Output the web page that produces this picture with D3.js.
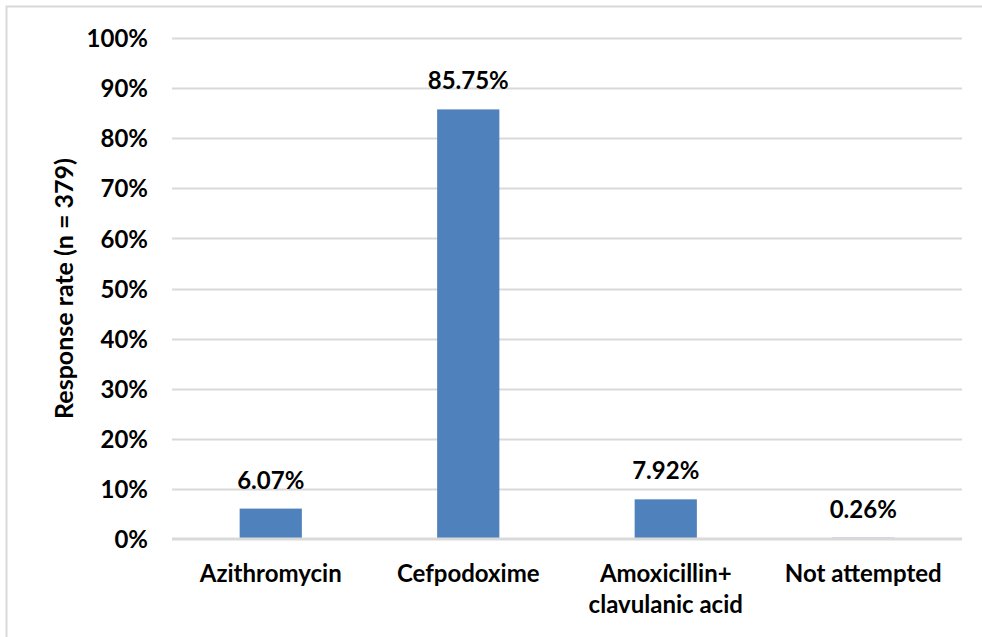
<!DOCTYPE html>
<html>
<head>
<meta charset="utf-8">
<script src="https://cdn.jsdelivr.net/npm/d3@7"></script>
<style>
	body { margin: 0; background: #fff; }
	svg text { font-family: Lato, "Open Sans", sans-serif; font-weight: bold; fill: #000; }
</style>
</head>
<body>
<div id="chart"></div>
<script>
'use strict';
(function() {
	//Chart data
	var categories = ['Azithromycin', 'Cefpodoxime', 'Amoxicillin+\nclavulanic acid', 'Not attempted'];
	var values = [6.07, 85.75, 7.92, 0.26];
	var yTicks = [0, 10, 20, 30, 40, 50, 60, 70, 80, 90, 100];
	var yTitle = 'Response rate (n = 379)';

	var width = 982, height = 637;
	var margin = {top: 38, right: 20, bottom: 98, left: 172};
	var innerW = width - margin.left - margin.right;
	var innerH = height - margin.top - margin.bottom;
	var fontSize = '24px';

	var svg = d3.select('#chart').append('svg')
		.attr('width', width)
		.attr('height', height);

	//frame (only left and top edges visible)
	svg.append('path')
		.attr('d', 'M6.5,' + height + 'V6.5H' + width)
		.attr('fill', 'none')
		.attr('stroke', '#d9d9d9')
		.attr('stroke-width', 2);

	var g = svg.append('g')
		.attr('transform', 'translate(' + margin.left + ',' + margin.top + ')');

	//Scales
	var x = d3.scaleBand()
		.domain(categories)
		.range([0, innerW])
		.paddingInner(0.685)
		.paddingOuter(0.3425);
	var y = d3.scaleLinear()
		.domain([0, 100])
		.range([innerH, 0]);

	//Gridlines (behind bars)
	g.append('g')
		.selectAll('line')
		.data(yTicks.filter(function(d){ return d > 0; }))
		.enter().append('line')
			.attr('x1', 0)
			.attr('x2', innerW)
			.attr('y1', function(d){ return Math.round(y(d)) + 0.5; })
			.attr('y2', function(d){ return Math.round(y(d)) + 0.5; })
			.attr('stroke', '#d9d9d9')
			.attr('stroke-width', 2);

	//Bars
	g.selectAll('rect.bar')
		.data(values)
		.enter().append('rect')
			.classed('bar', true)
			.attr('x', function(d, i){ return x(categories[i]); })
			.attr('width', x.bandwidth())
			.attr('y', function(d){ return y(d); })
			.attr('height', function(d){ return innerH - y(d); })
			.attr('fill', '#4f81bd');

	//zero line on top of bars
	g.append('line')
		.attr('x1', 0)
		.attr('x2', innerW)
		.attr('y1', y(0))
		.attr('y2', y(0))
		.attr('stroke', '#d9d9d9')
		.attr('stroke-width', 3);

	//Y axis
	var yAxis = g.append('g')
		.call(d3.axisLeft(y).tickValues(yTicks).tickSize(0).tickPadding(24)
			.tickFormat(function(d){ return d + '%'; }));
	yAxis.select('.domain').remove();
	yAxis.selectAll('text')
		.style('font-size', fontSize)
		.attr('dy', '0.36em');

	//Value labels
	g.selectAll('text.value')
		.data(values)
		.enter().append('text')
			.classed('value', true)
			.attr('x', function(d, i){ return x(categories[i]) + x.bandwidth() / 2; })
			.attr('y', function(d){ return y(d) - 20; })
			.attr('text-anchor', 'middle')
			.style('font-size', fontSize)
			.text(function(d){ return d.toFixed(2) + '%'; });

	//X axis category labels (multi-line)
	var xLabels = g.append('g')
		.attr('transform', 'translate(0,' + innerH + ')');
	categories.forEach(function(c) {
		var t = xLabels.append('text')
			.attr('text-anchor', 'middle')
			.style('font-size', fontSize)
			.attr('x', x(c) + x.bandwidth() / 2)
			.attr('y', 43);
		c.split('\n').forEach(function(line, j) {
			t.append('tspan')
				.attr('x', x(c) + x.bandwidth() / 2)
				.attr('dy', j === 0 ? 0 : 31)
				.text(line);
		});
	});

	//Y axis title
	svg.append('text')
		.attr('transform', 'translate(73,' + (margin.top + innerH / 2) + ') rotate(-90)')
		.attr('text-anchor', 'middle')
		.style('font-size', '25px')
		.text(yTitle);
})();
</script>
</body>
</html>
